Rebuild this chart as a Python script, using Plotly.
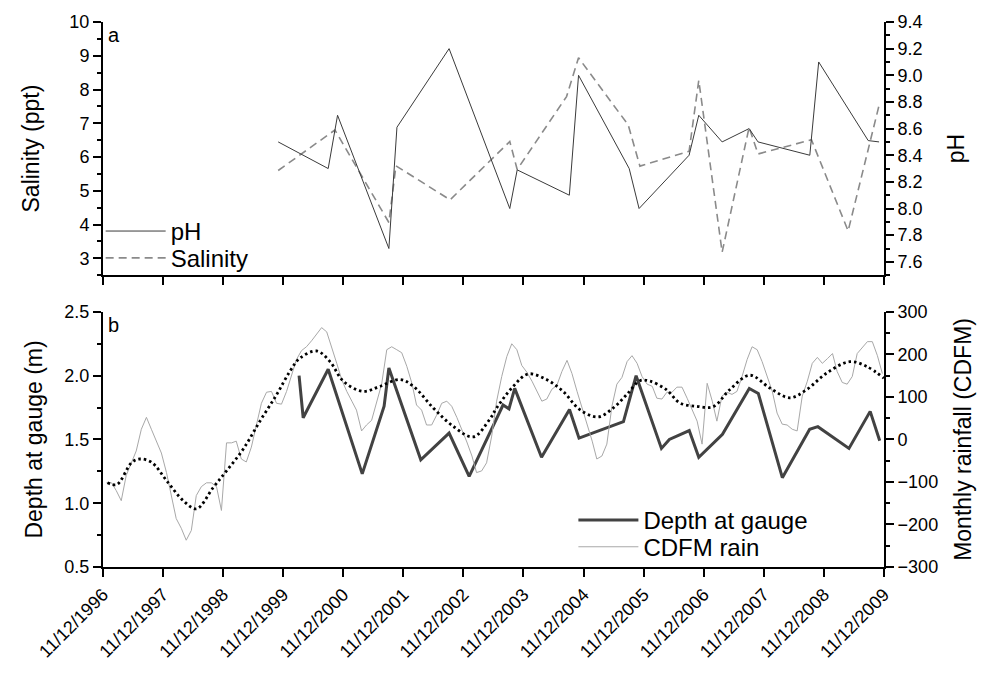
import pandas as pd
import plotly.graph_objects as go

# ---- Panel a: pH and salinity samples ----
ph_dates = ["1999-11-11", "2000-09-10", "2000-11-06", "2001-09-14", "2001-11-02",
            "2002-09-15", "2003-09-19", "2003-11-03", "2004-09-15", "2004-11-10",
            "2005-09-14", "2005-11-13", "2006-09-13", "2006-11-11", "2007-04-02",
            "2007-09-13", "2007-11-06", "2008-09-16", "2008-11-09", "2009-09-06",
            "2009-11-11"]
ph_values = [8.50, 8.30, 8.70, 7.70, 8.61, 9.20, 8.00, 8.29, 8.10, 9.00, 8.30,
             8.00, 8.40, 8.70, 8.50, 8.60, 8.50, 8.40, 9.10, 8.51, 8.50]

sal_dates = ["1999-11-11", "2000-10-21", "2001-09-14", "2001-10-27", "2002-09-21",
             "2003-09-19", "2003-11-03", "2004-08-29", "2004-11-10", "2005-09-08",
             "2005-11-18", "2006-09-13", "2006-11-11", "2007-04-02", "2007-09-13",
             "2007-11-06", "2008-09-26", "2009-05-07", "2009-11-15"]
sal_values = [5.60, 6.80, 4.06, 5.74, 4.73, 6.46, 5.63, 7.79, 8.94, 6.95, 5.73,
              6.17, 8.27, 3.18, 6.88, 6.09, 6.51, 3.81, 7.61]

# ---- Panel b: gauge depth and rainfall ----
depth_dates = ["2000-03-17", "2000-04-11", "2000-09-10", "2001-04-05", "2001-08-16",
               "2001-09-14", "2002-03-27", "2002-09-15", "2003-01-15", "2003-08-09",
               "2003-09-14", "2003-10-19", "2004-03-30", "2004-09-16", "2004-11-13",
               "2005-08-10", "2005-10-26", "2006-03-29", "2006-05-16", "2006-09-14",
               "2006-11-11", "2007-04-04", "2007-09-14", "2007-11-08", "2008-04-02",
               "2008-09-15", "2008-11-04", "2009-05-12", "2009-09-18", "2009-11-15"]
depth_values = [2.00, 1.67, 2.05, 1.23, 1.76, 2.06, 1.34, 1.55, 1.21, 1.77,
                1.74, 1.90, 1.36, 1.735, 1.51, 1.64, 2.00, 1.43, 1.50, 1.57,
                1.36, 1.54, 1.90, 1.86, 1.20, 1.58, 1.60, 1.43, 1.72, 1.49]

# cumulative deviation from monthly mean rainfall, Jan 1997 - Dec 2009
cdfm_start = "1997-01-01"
cdfm_values = [
    -102, -102, -120, -144, -85, -55, -27, 24, 52, 24, -4, -32,
    -78, -134, -186, -209, -237, -214, -132, -111, -102, -102, -111, -167,
    -8, -8, -4, -46, -53, -18, 34, 85, 111, 113, 85, 83,
    113, 155, 188, 209, 218, 232, 246, 263, 253, 218, 179, 141,
    113, 90, 69, 20, 34, 45, 90, 130, 211, 218, 211, 204,
    172, 132, 81, 69, 34, 34, 57, 85, 90, 78, 52, 24,
    -6, -39, -78, -74, -55, 8, 90, 148, 195, 225, 211, 174,
    158, 137, 113, 90, 95, 118, 127, 160, 186, 155, 113, 76,
    34, -4, -46, -39, -11, 78, 130, 146, 183, 197, 179, 148,
    130, 125, 97, 95, 111, 111, 123, 123, 97, 71, 43, -11,
    132, 90, 43, 102, 111, 106, 113, 148, 188, 218, 211, 183,
    148, 113, 62, 36, 34, 24, 20, 102, 137, 179, 193, 179,
    190, 202, 160, 134, 130, 148, 202, 216, 230, 230, 197, 155]
cdfm_dates = pd.date_range(cdfm_start, periods=len(cdfm_values), freq="MS")

# smoothed CDFM trend
trend_dates = ["1997-01-07", "1997-03-05", "1997-06-04", "1997-07-24", "1997-10-03",
               "1998-01-02", "1998-04-13", "1998-07-03", "1998-10-12", "1999-01-01",
               "1999-04-12", "1999-07-23", "1999-11-01", "2000-01-21", "2000-03-22",
               "2000-07-02", "2000-09-21", "2000-12-11", "2001-04-11", "2001-07-22",
               "2001-11-20", "2002-02-10", "2002-06-11", "2002-10-10", "2003-02-09",
               "2003-05-21", "2003-07-01", "2003-10-10", "2004-01-08", "2004-04-29",
               "2004-08-08", "2004-11-18", "2005-03-09", "2005-06-09", "2005-08-29",
               "2005-11-18", "2006-01-18", "2006-04-28", "2006-07-18", "2006-10-28",
               "2007-02-06", "2007-05-18", "2007-09-17", "2008-01-17", "2008-05-17",
               "2008-08-27", "2008-12-27", "2009-05-17", "2009-08-26", "2009-12-10"]
trend_values = [-102, -106, -54, -46, -54, -97, -144, -163, -113, -74,
                -23, 43, 105, 160, 191, 208, 183, 137, 113, 125,
                141, 125, 74, 31, 6, 48, 74, 125, 154, 141,
                113, 70, 53, 74, 105, 138, 137, 117, 86, 78,
                77, 117, 151, 121, 98, 117, 156, 183, 172, 144]

# ---- shared date axis ----
tick_years = list(range(1996, 2010))
tick_vals = [f"{y}-12-11" for y in tick_years]
tick_text = [f"11/12/{y}" for y in tick_years]
x_range = ["1996-12-11", "2009-12-11"]

FONT = "Arial, Liberation Sans, sans-serif"
INK = "black"
TITLE_SIZE = 23
LEGEND_SIZE = 24

fig = go.Figure()

fig.add_trace(go.Scatter(x=ph_dates, y=ph_values, name="pH", mode="lines",
                         xaxis="x", yaxis="y2", legend="legend",
                         line=dict(color="#3a3a3a", width=1)))
fig.add_trace(go.Scatter(x=sal_dates, y=sal_values, name="Salinity", mode="lines",
                         xaxis="x", yaxis="y", legend="legend2",
                         line=dict(color="#8a8a8a", width=1.6, dash="8px,5px")))
fig.add_trace(go.Scatter(x=depth_dates, y=depth_values, name="Depth at gauge",
                         mode="lines", xaxis="x2", yaxis="y3", legend="legend3",
                         line=dict(color="#424242", width=3)))
fig.add_trace(go.Scatter(x=cdfm_dates, y=cdfm_values, name="CDFM rain", mode="lines",
                         xaxis="x2", yaxis="y4", legend="legend4",
                         line=dict(color="#a8a8a8", width=1)))
fig.add_trace(go.Scatter(x=trend_dates, y=trend_values, name="CDFM trend",
                         mode="lines", xaxis="x2", yaxis="y4", showlegend=False,
                         line=dict(color="black", width=2.8, dash="2.5px,3px",
                                   shape="spline", smoothing=1.0)))

axis_common = dict(showline=True, linecolor=INK, linewidth=2, ticks="outside",
                   ticklen=8, tickwidth=2, tickcolor=INK, showgrid=False,
                   zeroline=False, tickfont=dict(size=18, color=INK, family=FONT))

xcommon = dict(axis_common, type="date", range=x_range, tickmode="array",
               tickvals=tick_vals, ticktext=tick_text, domain=[0, 1])

TOP = [0.5355, 1.0]
BOT = [0.0, 0.4681]


def minor(step):
    return dict(dtick=step, ticks="outside", ticklen=4, tickwidth=2, tickcolor=INK)


def legend_box(x, y):
    return dict(x=x, y=y, xanchor="left", yanchor="middle",
                bgcolor="rgba(0,0,0,0)", borderwidth=0, itemwidth=60,
                font=dict(size=LEGEND_SIZE, family=FONT, color=INK))


fig.update_layout(
    width=984, height=677,
    margin=dict(l=103, r=99, t=18, b=110),
    paper_bgcolor="white", plot_bgcolor="white",
    font=dict(family=FONT, color=INK, size=18),
    xaxis=dict(xcommon, anchor="y", showticklabels=False),
    xaxis2=dict(xcommon, anchor="y3", tickangle=-45,
                tickfont=dict(size=18, color=INK, family=FONT)),
    yaxis=dict(axis_common, domain=TOP, anchor="x", range=[2.5, 10], dtick=1, tick0=0,
               title=dict(text="Salinity (ppt)", font=dict(size=TITLE_SIZE), standoff=23),
               minor=minor(0.5)),
    yaxis2=dict(axis_common, domain=TOP, anchor="x", overlaying="y", side="right",
                range=[7.5, 9.4], dtick=0.2, tick0=7.6, tickformat=".1f",
                title=dict(text="pH", font=dict(size=TITLE_SIZE), standoff=26),
                minor=minor(0.1)),
    yaxis3=dict(axis_common, domain=BOT, anchor="x2", range=[0.5, 2.5], dtick=0.5,
                tick0=0.5, tickformat=".1f",
                title=dict(text="Depth at gauge (m)", font=dict(size=TITLE_SIZE), standoff=15),
                minor=minor(0.25)),
    yaxis4=dict(axis_common, domain=BOT, anchor="x2", overlaying="y3", side="right",
                range=[-300, 300], dtick=100, tick0=0,
                title=dict(text="Monthly rainfall (CDFM)", font=dict(size=TITLE_SIZE),
                           standoff=18),
                minor=minor(50)),
    legend=legend_box(-0.003, 0.6157),
    legend2=legend_box(-0.003, 0.5665),
    legend3=legend_box(0.6023, 0.0856),
    legend4=legend_box(0.6023, 0.0364),
    annotations=[
        dict(text="a", xref="paper", yref="paper", x=0.004, y=1.0, xanchor="left",
             yanchor="top", showarrow=False, font=dict(size=20, family=FONT, color=INK)),
        dict(text="b", xref="paper", yref="paper", x=0.004, y=BOT[1], xanchor="left",
             yanchor="top", showarrow=False, font=dict(size=20, family=FONT, color=INK)),
    ],
)

fig.write_html("out.html")
